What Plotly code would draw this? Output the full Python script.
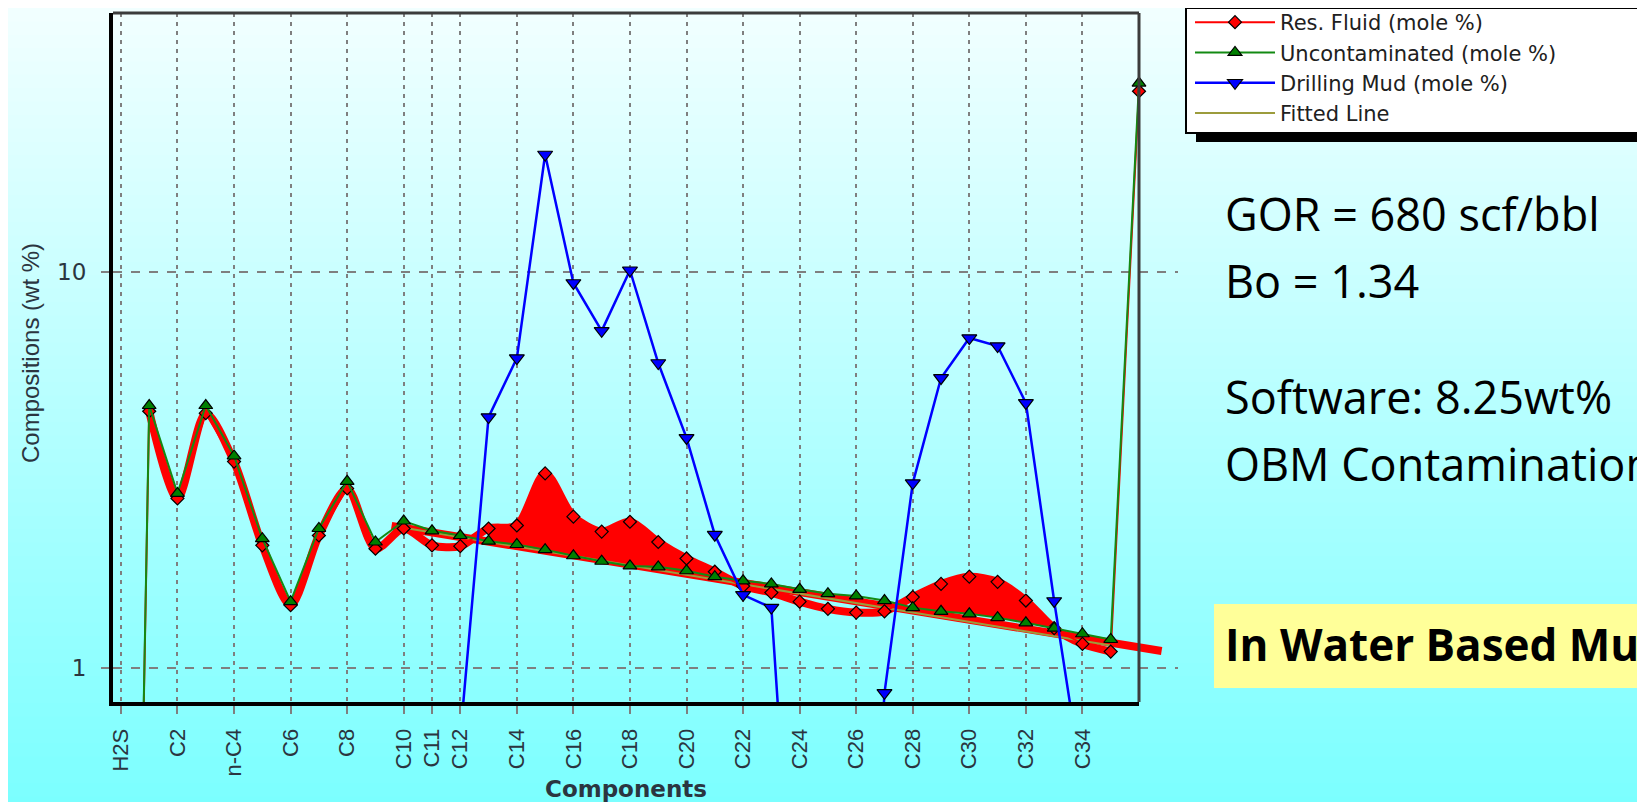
import plotly.graph_objects as go

# ---------------- data ----------------
components = ["H2S", "C1", "C2", "C3", "n-C4", "C5", "C6", "C7", "C8", "C9",
              "C10", "C11", "C12", "C13", "C14", "C15", "C16", "C17", "C18", "C19",
              "C20", "C21", "C22", "C23", "C24", "C25", "C26", "C27", "C28", "C29",
              "C30", "C31", "C32", "C33", "C34", "C35", "C36+"]

res_fluid = [0.0006, 4.45, 2.68, 4.40, 3.32, 2.04, 1.44, 2.16, 2.84, 2.00,
             2.25, 2.04, 2.03, 2.25, 2.29, 3.10, 2.41, 2.21, 2.34, 2.08,
             1.89, 1.75, 1.61, 1.55, 1.47, 1.41, 1.38, 1.39, 1.51, 1.63,
             1.70, 1.65, 1.48, 1.26, 1.15, 1.10, 28.6]

uncontaminated = [0.0006, 4.60, 2.76, 4.60, 3.43, 2.12, 1.47, 2.25, 2.96, 2.08,
                  2.35, 2.22, 2.16, 2.09, 2.05, 1.99, 1.92, 1.86, 1.81, 1.80,
                  1.76, 1.70, 1.66, 1.63, 1.58, 1.54, 1.52, 1.48, 1.42, 1.39,
                  1.37, 1.34, 1.30, 1.26, 1.22, 1.18, 30.0]

drilling_mud = [None, None, None, None, None, None, None, None, None, None,
                None, None, 0.67, 4.30, 6.06, 19.8, 9.38, 7.10, 10.1, 5.89,
                3.81, 2.17, 1.53, 1.42, 0.12, 0.05, 0.05, 0.865, 2.93, 5.40,
                6.81, 6.50, 4.67, 1.476, 0.51, 0.05, 0.05]

fitted_components = ["C10", "C35"]
fitted_values = [2.26, 1.14]

tick_labels = ["H2S", "C2", "n-C4", "C6", "C8", "C10", "C11", "C12", "C14", "C16",
               "C18", "C20", "C22", "C24", "C26", "C28", "C30", "C32", "C34"]

# hand-drawn highlight (slide annotation)
contaminated_bands = [("C13", "C21"), ("C28", "C33")]
hand_fit_x = [9.57, 36.8]
hand_fit_y = [2.284, 1.104]

notes = ["GOR = 680 scf/bbl", "Bo = 1.34", "Software: 8.25wt%", "OBM Contamination"]
highlight_text = "In Water Based Mud"

# ---------------- geometry ----------------
W, H = 1645, 802
ML, MR, MT, MB = 105, 475, 5, 108
PW = W - ML - MR          # paper width in px
PH = H - MT - MB          # paper height in px
plot_right_px = 1131
D = (plot_right_px - ML) / PW
xr = [-0.28, 36.0]
x2r = [xr[0], xr[0] + (xr[1] - xr[0]) / D]
yr = [-0.086, 1.654]


def px(xpix):
    return (xpix - ML) / PW


def py(ypix):
    return (H - MB - ypix) / PH


pos = {c: i for i, c in enumerate(components)}
xs = [pos[c] for c in components]

RED = "#ff0000"
GREEN = "#138a13"
BLUE = "#0000ff"
OLIVE = "#9c9c3c"

fig = go.Figure()

# red highlighted contamination areas (main subplot, below everything)
for a, b in contaminated_bands:
    i0, i1 = pos[a], pos[b] + 1
    fig.add_trace(go.Scatter(x=xs[i0:i1], y=uncontaminated[i0:i1], mode="lines",
                             line=dict(width=0, color=RED, shape="spline"),
                             xaxis="x", yaxis="y", showlegend=False, hoverinfo="skip"))
    fig.add_trace(go.Scatter(x=xs[i0:i1], y=res_fluid[i0:i1], mode="lines",
                             line=dict(width=0, color=RED, shape="spline"),
                             fill="tonexty", fillcolor=RED,
                             xaxis="x", yaxis="y", showlegend=False, hoverinfo="skip"))

# hand-drawn thick curve over the reservoir fluid
fig.add_trace(go.Scatter(x=xs[1:36], y=res_fluid[1:36], mode="lines",
                         line=dict(width=8, color=RED, shape="spline", smoothing=0.8),
                         xaxis="x", yaxis="y", showlegend=False, hoverinfo="skip"))

# hand-drawn thick fitted line (extends past the frame)
fig.add_trace(go.Scatter(x=hand_fit_x, y=hand_fit_y, mode="lines",
                         line=dict(width=8, color=RED),
                         xaxis="x2", yaxis="y", showlegend=False, hoverinfo="skip"))

# software fitted line
fig.add_trace(go.Scatter(x=[pos[c] for c in fitted_components], y=fitted_values,
                         mode="lines", name="Fitted Line",
                         line=dict(width=2, color=OLIVE), legendrank=4,
                         xaxis="x2", yaxis="y"))

fig.add_trace(go.Scatter(x=xs, y=res_fluid, mode="lines+markers", name="Res. Fluid (mole %)",
                         line=dict(width=2, color=RED),
                         marker=dict(symbol="diamond", size=10, color=RED,
                                     line=dict(width=1.2, color="black")),
                         legendrank=1, xaxis="x2", yaxis="y"))
fig.add_trace(go.Scatter(x=xs, y=uncontaminated, mode="lines+markers",
                         name="Uncontaminated (mole %)",
                         line=dict(width=2, color=GREEN),
                         marker=dict(symbol="triangle-up", size=12, color="#008000",
                                     line=dict(width=1.2, color="black")),
                         legendrank=2, xaxis="x2", yaxis="y"))
fig.add_trace(go.Scatter(x=xs, y=drilling_mud, mode="lines+markers",
                         name="Drilling Mud (mole %)",
                         line=dict(width=2.5, color=BLUE),
                         marker=dict(symbol="triangle-down", size=13, color=BLUE,
                                     line=dict(width=1.2, color="black")),
                         legendrank=3, xaxis="x2", yaxis="y"))

# ---------------- background gradient ----------------
shapes = []
nb = 60
top_c = (242, 255, 255)
bot_c = (122, 255, 255)
for i in range(nb):
    t = (i + 0.5) / nb
    c = tuple(round(top_c[k] + (bot_c[k] - top_c[k]) * t) for k in range(3))
    y0 = i * H / nb
    y1 = (i + 1) * H / nb + 1
    shapes.append(dict(type="rect", xref="paper", yref="paper",
                       x0=px(-5), x1=px(W + 5), y0=py(y0), y1=py(y1),
                       fillcolor="rgb(%d,%d,%d)" % c, line=dict(width=0), layer="below"))

# top/right frame
shapes.append(dict(type="line", xref="x domain", yref="y domain", x0=0, x1=1, y0=1, y1=1,
                   line=dict(color="#3c3c3c", width=3), layer="above"))
shapes.append(dict(type="line", xref="x domain", yref="y domain", x0=1, x1=1, y0=0, y1=1,
                   line=dict(color="#3c3c3c", width=3), layer="above"))

# legend shadow and box
shapes.append(dict(type="rect", xref="paper", yref="paper",
                   x0=px(1188), x1=px(1660), y0=py(10), y1=py(134),
                   fillcolor="black", line=dict(width=0), layer="above"))
shapes.append(dict(type="rect", xref="paper", yref="paper",
                   x0=px(1178), x1=px(1637), y0=py(0), y1=py(125),
                   fillcolor="white", line=dict(width=2, color="black"), layer="above"))

# yellow highlight box
shapes.append(dict(type="rect", xref="paper", yref="paper",
                   x0=px(1206), x1=px(1660), y0=py(596), y1=py(680),
                   fillcolor="#ffff99", line=dict(width=0), layer="above"))

annotations = [
    dict(text="Compositions (wt %)", xref="paper", yref="paper", x=px(22), y=py(345),
         textangle=-90, showarrow=False, xanchor="center", yanchor="middle",
         font=dict(family="Liberation Sans, Arial", size=24, color="#2b3540")),
    dict(text="<b>Components</b>", xref="paper", yref="paper", x=px(618), y=py(781),
         showarrow=False, xanchor="center", yanchor="middle",
         font=dict(family="DejaVu Sans", size=23, color="#2b3540")),
]
note_y = [205, 272, 388, 455]
for txt, yy in zip(notes, note_y):
    annotations.append(dict(text=txt, xref="paper", yref="paper", x=px(1215), y=py(yy),
                            showarrow=False, xanchor="left", yanchor="middle",
                            font=dict(family="Open Sans", size=45, color="black")))
annotations.append(dict(text="<b>" + highlight_text + "</b>", xref="paper", yref="paper",
                        x=px(1215), y=py(636), showarrow=False, xanchor="left",
                        yanchor="middle",
                        font=dict(family="Open Sans", size=44, color="black")))

fig.update_layout(
    width=W, height=H,
    margin=dict(l=ML, r=MR, t=MT, b=MB, autoexpand=False),
    paper_bgcolor="rgb(180,255,255)",
    plot_bgcolor="rgba(0,0,0,0)",
    shapes=shapes,
    annotations=annotations,
    showlegend=True,
    legend=dict(x=px(1182), y=py(-6), xanchor="left", yanchor="top",
                traceorder="normal",
                bgcolor="rgba(0,0,0,0)", borderwidth=0,
                font=dict(family="DejaVu Sans", size=21, color="#202020"),
                itemwidth=80, tracegroupgap=0),
    xaxis=dict(domain=[0, D], range=xr, anchor="y",
               tickmode="array", tickvals=[pos[t] for t in tick_labels], ticktext=tick_labels,
               tickangle=-90, showgrid=True, gridcolor="#7f7f7f", gridwidth=2,
               griddash="4px,5px", zeroline=False,
               showline=True, linecolor="black", linewidth=4,
               ticks="outside", ticklen=8, tickcolor="#7f7f7f", tickwidth=2,
               ticklabelstandoff=6,
               tickfont=dict(family="Liberation Sans, Arial", size=22, color="#2b3540")),
    xaxis2=dict(domain=[0, 1], range=x2r, anchor="y", visible=False),
    yaxis=dict(type="log", range=yr, anchor="x",
               tickmode="array", tickvals=[1, 10], ticktext=["1", "10"],
               showgrid=True, gridcolor="#7f7f7f", gridwidth=2, griddash="9px,9px",
               zeroline=False, showline=True, linecolor="black", linewidth=4,
               ticks="outside", ticklen=8, tickcolor="#7f7f7f", tickwidth=2,
               ticklabelstandoff=10,
               tickfont=dict(family="DejaVu Sans", size=23, color="#2b3540")),
)

fig.write_html("out.html")
